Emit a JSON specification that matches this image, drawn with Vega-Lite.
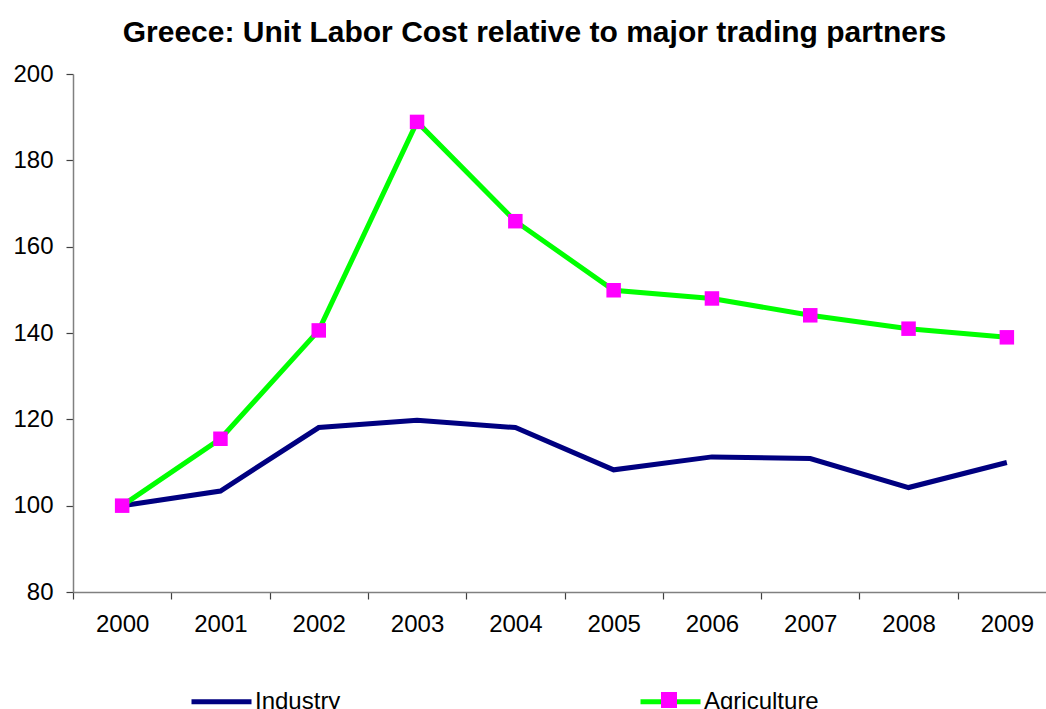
{
  "$schema": "https://vega.github.io/schema/vega-lite/v6.json",
  "autosize": {"type": "none"},
  "padding": {"left": 73, "top": 74, "right": 0, "bottom": 117},
  "width": 983,
  "height": 518,
  "background": "white",
  "title": {
    "text": "Greece: Unit Labor Cost relative to major trading partners",
    "font": "Liberation Sans",
    "fontSize": 30,
    "fontWeight": "bold",
    "color": "black",
    "anchor": "middle",
    "baseline": "alphabetic",
    "offset": -10,
    "dx": -30
  },
  "config": {
    "view": {"stroke": null},
    "font": "Liberation Sans",
    "axis": {
      "labelFont": "Liberation Sans",
      "labelFontSize": 24,
      "labelColor": "black",
      "domainColor": "#808080",
      "domainWidth": 1.5,
      "tickColor": "#404040",
      "tickWidth": 1.2,
      "tickSize": 7,
      "grid": false,
      "title": null
    }
  },
  "data": {
    "values": [
      {"year": "2000", "series": "Industry", "value": 100},
      {"year": "2001", "series": "Industry", "value": 103.4},
      {"year": "2002", "series": "Industry", "value": 118.1},
      {"year": "2003", "series": "Industry", "value": 119.8},
      {"year": "2004", "series": "Industry", "value": 118.1},
      {"year": "2005", "series": "Industry", "value": 108.3},
      {"year": "2006", "series": "Industry", "value": 111.3},
      {"year": "2007", "series": "Industry", "value": 110.9},
      {"year": "2008", "series": "Industry", "value": 104.2},
      {"year": "2009", "series": "Industry", "value": 110},
      {"year": "2000", "series": "Agriculture", "value": 100},
      {"year": "2001", "series": "Agriculture", "value": 115.5},
      {"year": "2002", "series": "Agriculture", "value": 140.6},
      {"year": "2003", "series": "Agriculture", "value": 188.9},
      {"year": "2004", "series": "Agriculture", "value": 165.9},
      {"year": "2005", "series": "Agriculture", "value": 149.9},
      {"year": "2006", "series": "Agriculture", "value": 148},
      {"year": "2007", "series": "Agriculture", "value": 144.1},
      {"year": "2008", "series": "Agriculture", "value": 141},
      {"year": "2009", "series": "Agriculture", "value": 139}
    ]
  },
  "encoding": {
    "x": {
      "field": "year",
      "type": "ordinal",
      "bandPosition": 0.5,
      "scale": {"type": "band", "paddingInner": 0, "paddingOuter": 0},
      "axis": {"labelAngle": 0, "tickBand": "extent", "labelPadding": 13}
    },
    "y": {
      "field": "value",
      "type": "quantitative",
      "scale": {"domain": [80, 200], "nice": false, "zero": false},
      "axis": {"values": [80, 100, 120, 140, 160, 180, 200], "labelPadding": 13}
    }
  },
  "layer": [
    {
      "mark": {"type": "line", "strokeWidth": 5, "strokeJoin": "miter"},
      "encoding": {
        "color": {
          "field": "series",
          "type": "nominal",
          "scale": {"domain": ["Industry", "Agriculture"], "range": ["#000080", "#00FF00"]},
          "legend": {
            "orient": "none",
            "legendX": 116,
            "legendY": 595,
            "direction": "horizontal",
            "title": null,
            "symbolType": "stroke",
            "symbolSize": 3600,
            "symbolStrokeWidth": 5,
            "labelFont": "Liberation Sans",
            "labelFontSize": 24,
            "labelColor": "black",
            "labelOffset": 1,
            "columnPadding": 289,
            "padding": 0
          }
        }
      }
    },
    {
      "transform": [{"filter": "datum.series === 'Agriculture'"}],
      "mark": {"type": "point", "shape": "square", "filled": true, "size": 210, "opacity": 1},
      "encoding": {
        "fill": {
          "field": "series",
          "type": "nominal",
          "scale": {"domain": ["Agriculture"], "range": ["#FF00FF"]},
          "legend": {
            "orient": "none",
            "legendX": 587,
            "legendY": 617,
            "title": null,
            "symbolType": "square",
            "symbolSize": 256,
            "symbolOpacity": 1,
            "labelFontSize": 1,
            "labelOpacity": 0,
            "padding": 0
          }
        }
      }
    }
  ]
}
